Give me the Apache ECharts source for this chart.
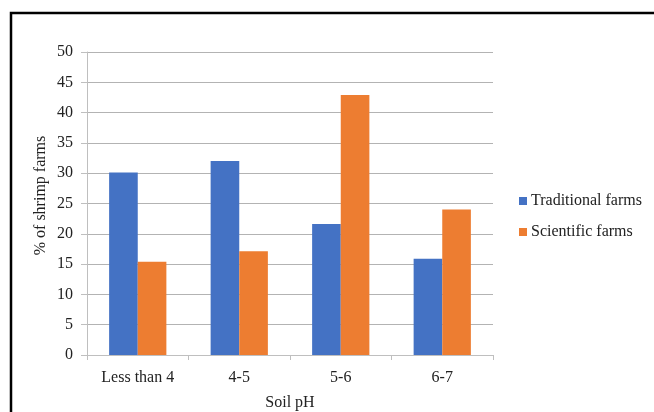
<!DOCTYPE html>
<html>
<head>
<meta charset="utf-8">
<script src="https://cdn.jsdelivr.net/npm/echarts@6/dist/echarts.min.js"></script>
<style>html,body{margin:0;padding:0;background:#fff}#c{width:654px;height:412px}</style>
</head>
<body>
<div id="c"></div>
<script>
const categories = ['Less than 4', '4-5', '5-6', '6-7'];
const traditional = [30.1, 32.0, 21.6, 15.9];
const scientific = [15.4, 17.1, 42.9, 24.0];
const seriesNames = ['Traditional farms', 'Scientific farms'];
const yMin = 0, yMax = 50, yStep = 5;

const font = 'Liberation Serif';
const chart = echarts.init(document.getElementById('c'), null, {renderer: 'canvas'});
chart.setOption({
  animation: false,
  backgroundColor: '#fff',
  color: ['#4472C4', '#ED7D31'],
  graphic: [{
    type: 'rect', silent: true,
    shape: {x: 11, y: 13, width: 800, height: 600},
    style: {fill: 'none', stroke: '#000', lineWidth: 2.5}
  }],
  grid: {left: 87, right: 161, top: 52, bottom: 57, containLabel: false, outerBoundsMode: 'none'},
  legend: {
    orient: 'vertical', left: 514, top: 188,
    itemWidth: 8, itemHeight: 8, itemGap: 15,
    icon: 'rect',
    textStyle: {fontFamily: font, fontSize: 16, color: '#222', padding: [0, 0, 0, -1]},
    data: seriesNames
  },
  xAxis: {
    type: 'category', data: categories,
    name: 'Soil pH', nameLocation: 'middle', nameGap: 40, nameMoveOverlap: false,
    nameTextStyle: {fontFamily: font, fontSize: 16, color: '#222'},
    axisLine: {lineStyle: {color: '#bfbfbf', width: 1}},
    axisTick: {show: true, length: 5, lineStyle: {color: '#bfbfbf'}},
    axisLabel: {fontFamily: font, fontSize: 16, color: '#222', margin: 15}
  },
  yAxis: {
    type: 'value', min: yMin, max: yMax, interval: yStep,
    name: '% of shrimp farms', nameLocation: 'middle', nameGap: 38, nameMoveOverlap: false,
    nameTextStyle: {fontFamily: font, fontSize: 16, color: '#222', padding: [0, 0, 0, 16]},
    axisLine: {show: true, lineStyle: {color: '#bfbfbf', width: 1}},
    axisTick: {show: true, length: 6, lineStyle: {color: '#bfbfbf'}},
    axisLabel: {fontFamily: font, fontSize: 16, color: '#222', margin: 14},
    splitLine: {lineStyle: {color: '#b3b3b3', width: 1}}
  },
  series: [
    {name: seriesNames[0], type: 'bar', data: traditional, barWidth: '28.2%', barGap: '0%'},
    {name: seriesNames[1], type: 'bar', data: scientific, barWidth: '28.2%', barGap: '0%'}
  ]
});
</script>
</body>
</html>
